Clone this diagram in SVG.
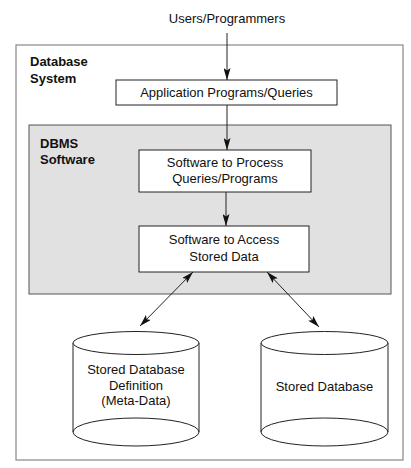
<svg xmlns="http://www.w3.org/2000/svg" width="411" height="468" viewBox="0 0 411 468">
<style>
text{font-family:"Liberation Sans",Arial,sans-serif;font-size:13px;fill:#111;}
.b{font-weight:bold;}
.c{text-anchor:middle;}
.box{fill:#fff;stroke:#222;stroke-width:1;}
.ln{stroke:#222;stroke-width:1;fill:none;}
</style>
<defs>
<marker id="ah" viewBox="0 0 12 7" refX="12" refY="3.5" markerWidth="12" markerHeight="7" markerUnits="userSpaceOnUse" orient="auto-start-reverse">
<path d="M0,0 L12,3.5 L0,7 L2.5,3.5 Z" fill="#111"/>
</marker>
</defs>
<rect width="411" height="468" fill="#fff"/>
<g id="system">
<rect x="16" y="45" width="387" height="415" fill="#fff" stroke="#888" stroke-width="1.2"/>
<text class="b" x="30" y="66">Database</text>
<text class="b" x="30" y="83">System</text>
</g>
<text id="users" class="c" x="227" y="23">Users/Programmers</text>
<g id="dbms">
<rect x="29" y="125" width="362" height="169" fill="#e1e1e1" stroke="#555" stroke-width="1"/>
<text class="b" x="40" y="148">DBMS</text>
<text class="b" x="40" y="164">Software</text>
</g>
<g id="app">
<rect class="box" x="116" y="80" width="221" height="25"/>
<text class="c" x="226.5" y="97">Application Programs/Queries</text>
</g>
<g id="process">
<rect class="box" x="139" y="150" width="172" height="42"/>
<text class="c" x="225" y="167">Software to Process</text>
<text class="c" x="225" y="183">Queries/Programs</text>
</g>
<g id="access">
<rect class="box" x="139" y="226" width="170" height="46"/>
<text class="c" x="224" y="244">Software to Access</text>
<text class="c" x="224" y="261">Stored Data</text>
</g>
<g id="meta">
<path class="box" d="M73,343 L73,432 A63,14 0 0 0 199,432 L199,343"/>
<ellipse class="box" cx="136" cy="343" rx="63" ry="11.5"/>
<path class="ln" d="M73,432 A63,14 0 0 1 199,432"/>
<text class="c" x="136" y="374">Stored Database</text>
<text class="c" x="136" y="390">Definition</text>
<text class="c" x="136" y="405">(Meta-Data)</text>
</g>
<g id="stored">
<path class="box" d="M261,343 L261,432 A63.5,14 0 0 0 388,432 L388,343"/>
<ellipse class="box" cx="324.5" cy="343" rx="63.5" ry="11.5"/>
<path class="ln" d="M261,432 A63.5,14 0 0 1 388,432"/>
<text class="c" x="324.5" y="391">Stored Database</text>
</g>
<g id="connectors">
<line class="ln" x1="227" y1="33" x2="227" y2="80" marker-end="url(#ah)"/>
<line class="ln" x1="227" y1="105" x2="227" y2="150" marker-end="url(#ah)"/>
<line class="ln" x1="226" y1="192" x2="226" y2="226" marker-end="url(#ah)"/>
<line class="ln" x1="140" y1="326" x2="193" y2="272" marker-start="url(#ah)" marker-end="url(#ah)"/>
<line class="ln" x1="319" y1="327" x2="267" y2="272" marker-start="url(#ah)" marker-end="url(#ah)"/>
</g>
</svg>
